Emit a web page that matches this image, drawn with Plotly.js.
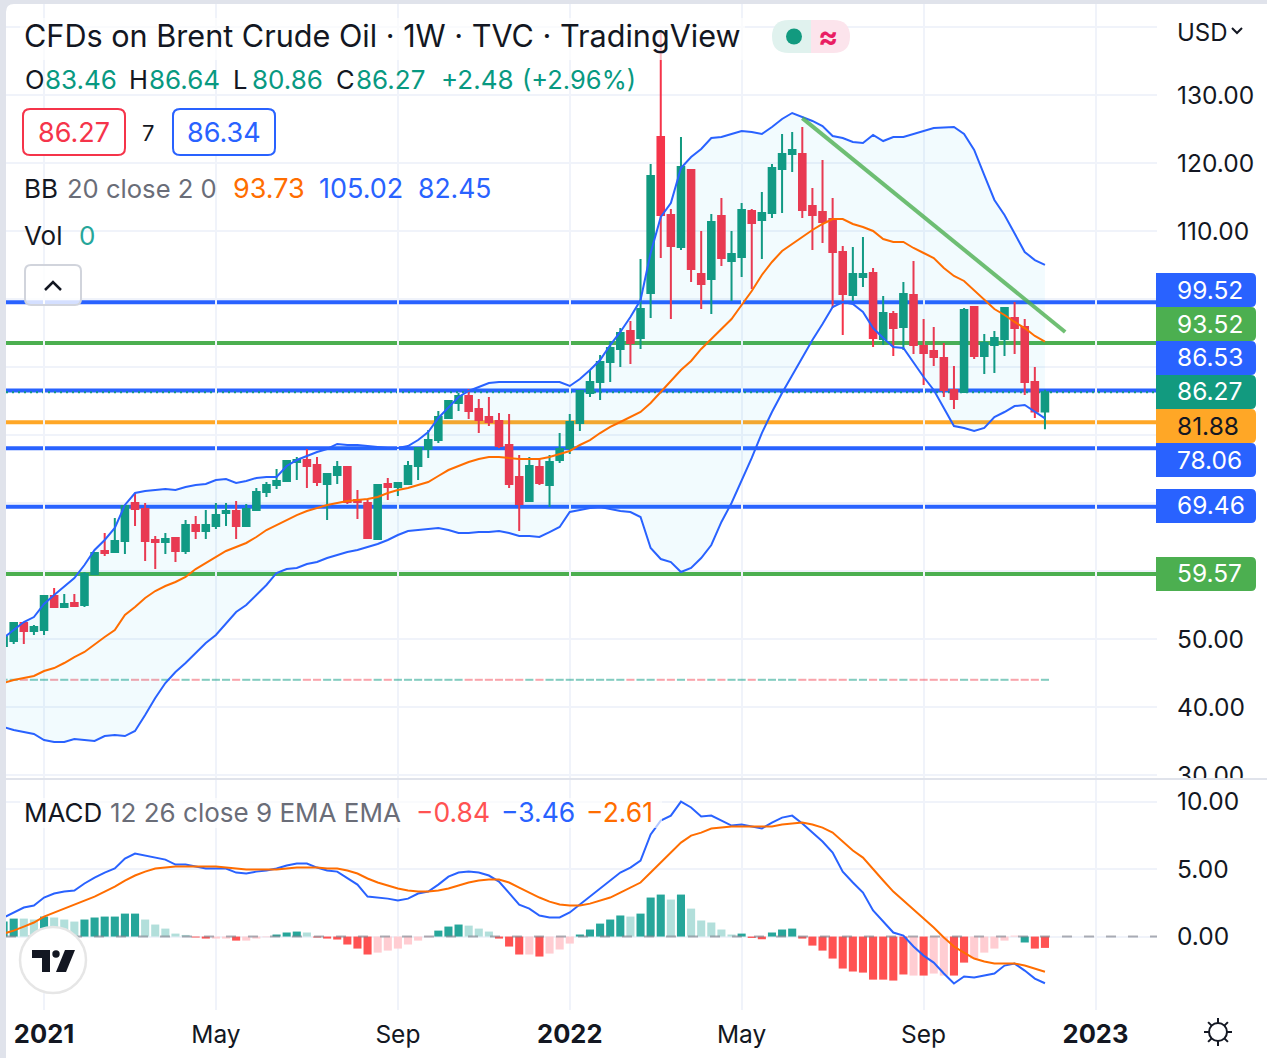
<!DOCTYPE html>
<html>
<head>
<meta charset="utf-8">
<script src="https://cdn.plot.ly/plotly-3.0.1.min.js"></script>
<style>html,body{margin:0;padding:0;background:#fff}#chart{width:1267px;height:1058px}</style>
</head>
<body>
<div id="chart"></div>
<script>
// ---------- data (weekly bars, first bar = week of 2020-12-07) ----------
const firstWeek = "2020-12-07";
const open = [48.97,49.70,52.35,51.17,51.32,56.32,54.70,55.29,55.00,59.56,62.94,62.79,64.41,70.00,69.12,64.56,64.26,64.85,62.94,66.76,65.88,66.62,68.53,68.82,66.62,68.97,71.62,72.65,73.23,76.03,76.32,75.59,72.79,74.12,75.29,70.44,70.00,64.71,72.79,72.35,72.79,75.44,77.94,79.26,82.50,84.71,85.73,83.82,82.65,82.06,78.53,73.82,70.29,75.29,72.65,76.32,78.09,81.76,86.18,87.79,90.73,92.65,95.29,94.26,100.88,123.82,112.35,107.65,118.97,103.68,102.94,112.21,105.59,106.18,112.94,111.62,112.65,119.12,121.32,121.32,113.68,112.79,111.76,106.91,100.59,103.23,103.82,94.12,97.79,95.88,100.59,93.09,92.35,91.32,86.62,86.32,98.82,91.62,93.23,94.12,97.21,95.88,87.79,83.46];
const high = [50.29,52.50,52.40,52.06,56.32,57.50,56.62,56.62,59.85,62.79,65.59,67.79,69.70,71.47,70.00,65.15,65.59,64.85,67.50,68.09,68.97,70.00,70.00,70.29,69.85,72.21,73.09,75.00,76.32,76.76,77.94,76.76,74.26,76.18,75.44,71.91,70.44,72.79,73.68,73.09,76.18,78.23,80.73,83.53,85.15,86.18,86.76,85.29,85.59,83.23,83.09,77.06,76.76,76.47,77.06,80.29,83.09,86.62,89.56,91.76,93.82,95.73,96.76,105.88,119.85,139.13,113.23,123.82,118.97,110.00,112.50,114.85,110.00,114.12,113.23,115.73,119.85,124.26,124.56,125.29,116.32,120.44,114.85,107.79,107.65,109.12,104.56,100.44,98.23,102.50,105.59,97.06,95.88,93.53,90.15,98.68,98.82,94.85,95.29,98.82,99.56,97.06,90.00,86.64];
const low = [48.97,49.26,49.26,50.59,50.59,54.70,54.56,54.85,54.70,59.56,62.21,62.65,62.50,66.62,61.47,60.29,62.50,61.32,62.50,64.71,64.71,66.18,66.62,64.71,66.62,68.82,70.88,72.06,73.09,73.38,72.21,72.50,67.50,72.79,69.85,67.65,64.85,64.71,70.44,71.03,72.79,73.38,76.62,78.82,82.35,83.53,82.35,80.29,81.32,78.09,72.21,65.88,70.29,72.65,69.41,75.88,77.21,80.59,85.59,85.15,87.79,90.00,90.44,92.65,97.21,106.03,97.06,107.21,102.50,98.53,97.79,104.85,99.71,103.23,101.47,105.88,111.91,112.65,118.68,111.91,107.21,108.23,98.68,94.71,99.71,101.76,92.94,93.23,91.62,92.50,91.91,87.35,90.15,85.59,83.82,86.32,91.18,88.97,89.12,91.62,91.91,85.88,82.50,80.86];
const close = [50.29,52.35,51.17,51.76,56.32,54.70,55.15,54.85,59.56,62.65,62.65,64.41,69.56,69.12,64.41,64.26,64.71,62.94,66.76,65.88,66.76,68.23,68.82,66.62,69.12,71.62,72.65,73.23,76.18,76.32,75.44,73.09,74.26,75.29,70.15,70.15,64.85,72.65,72.35,72.94,75.44,78.09,79.26,82.65,85.00,85.73,83.53,82.21,81.91,78.38,72.79,69.85,75.44,72.94,76.03,77.94,81.91,86.47,87.79,90.73,92.79,95.00,93.53,98.53,118.09,112.35,107.79,119.41,104.41,102.21,111.32,106.03,106.62,113.09,111.18,112.65,119.26,121.32,121.91,113.09,112.35,111.32,106.91,100.73,103.68,103.68,94.26,97.94,95.73,100.73,93.23,92.06,91.47,86.62,85.29,98.38,91.62,93.53,94.26,98.68,95.73,87.79,83.46,86.27];
const bbUpper = [50.15,51.32,52.50,53.23,55.15,56.47,57.65,58.97,60.88,63.09,64.56,66.32,69.71,71.47,71.76,71.91,72.06,71.91,72.35,72.65,72.79,73.38,73.53,72.94,73.23,73.68,73.82,73.82,75.44,76.32,76.91,77.50,77.94,78.68,78.53,78.53,78.38,78.23,78.09,78.09,78.38,79.26,80.44,82.50,83.97,85.59,86.47,87.06,87.65,87.79,87.79,87.79,87.79,87.79,87.79,87.79,87.21,88.23,89.56,91.03,93.23,95.15,97.35,99.85,106.76,112.06,114.12,119.26,120.88,122.06,123.68,123.82,124.26,124.71,124.56,124.26,125.29,126.47,127.35,126.76,126.18,125.44,123.97,123.68,123.09,122.94,124.12,123.23,123.82,123.82,124.26,124.71,125.15,125.22,125.29,124.26,121.91,118.23,114.56,112.35,109.71,106.91,105.73,105.02];
const bbBasis = [43.53,43.97,44.26,44.56,45.29,45.73,46.47,47.35,48.09,49.26,50.29,51.32,53.53,54.71,56.03,57.06,57.79,58.38,59.12,60.29,61.18,62.06,62.94,63.53,64.12,65.00,66.03,66.76,67.50,68.23,68.82,69.26,69.71,70.00,70.29,70.44,70.59,70.88,71.47,71.91,72.21,72.65,73.09,73.97,74.85,75.44,76.03,76.47,76.76,76.76,76.62,76.47,76.47,76.47,76.76,77.21,77.65,78.53,79.26,80.29,81.18,81.91,82.65,83.38,84.71,86.32,88.09,89.56,90.88,92.65,94.12,95.59,97.06,99.12,101.18,103.53,105.44,107.06,108.09,109.12,110.15,111.03,111.76,111.76,111.03,110.59,110.00,108.82,108.38,108.38,107.50,106.76,106.03,104.56,103.38,102.65,101.32,99.85,98.53,97.65,96.62,95.73,94.56,93.73];
const bbLower = [37.06,36.62,36.32,36.03,35.15,34.85,34.85,35.29,35.15,35.00,35.73,35.88,35.73,36.47,38.82,41.32,43.53,45.15,46.47,47.94,49.41,50.59,52.35,53.97,55.00,56.47,57.94,59.71,60.29,60.44,61.03,61.32,61.91,62.35,62.79,63.09,63.53,63.97,64.56,65.29,65.88,66.03,66.18,66.32,66.03,65.59,65.59,65.73,65.73,65.88,65.59,65.15,65.15,65.00,65.73,66.47,68.68,68.97,69.26,69.41,69.12,68.82,68.68,67.94,63.38,61.76,61.32,59.85,60.44,61.91,63.82,67.21,70.00,73.38,76.62,80.29,83.38,86.18,88.82,91.32,93.97,96.32,98.82,99.56,99.26,98.09,95.73,94.26,92.94,92.79,90.59,88.53,86.62,83.97,81.32,81.03,80.59,81.03,82.65,83.38,84.26,84.41,83.38,82.45];
const macdLine = [1.41,1.78,2.15,2.30,2.89,3.19,3.33,3.41,3.93,4.37,4.74,5.04,5.78,6.15,6.00,5.85,5.70,5.33,5.33,5.19,5.04,5.04,5.04,4.74,4.67,4.81,4.89,5.04,5.26,5.41,5.41,5.11,4.89,4.81,4.30,3.85,2.96,2.89,2.81,2.67,2.81,3.19,3.33,3.85,4.44,4.74,4.81,4.74,4.52,4.07,3.26,2.37,2.07,1.56,1.41,1.41,1.78,2.37,2.96,3.56,4.15,4.74,5.11,5.63,7.56,8.59,8.96,10.00,9.56,8.89,8.96,8.59,8.22,8.30,8.15,8.00,8.44,8.81,8.96,8.37,7.70,7.04,6.22,4.81,4.00,3.26,1.93,1.11,0.30,0.07,-0.74,-1.41,-1.93,-2.74,-3.48,-2.96,-3.04,-2.89,-2.74,-2.15,-2.00,-2.52,-3.11,-3.46];
const macdSignal = [0.22,0.44,0.74,1.04,1.48,1.78,2.07,2.37,2.67,2.96,3.33,3.70,4.15,4.52,4.81,5.04,5.11,5.19,5.19,5.19,5.19,5.19,5.11,5.04,4.96,4.96,4.96,4.96,5.04,5.11,5.11,5.11,5.04,5.04,4.89,4.67,4.30,4.00,3.78,3.56,3.41,3.33,3.33,3.41,3.56,3.78,4.00,4.15,4.22,4.22,4.00,3.63,3.26,2.89,2.59,2.37,2.30,2.30,2.44,2.67,2.89,3.26,3.63,4.00,4.74,5.48,6.22,6.96,7.48,7.70,8.00,8.07,8.15,8.15,8.15,8.15,8.15,8.30,8.37,8.44,8.30,8.07,7.70,7.04,6.37,5.85,5.04,4.15,3.33,2.67,2.00,1.33,0.67,-0.07,-0.74,-1.19,-1.63,-1.85,-2.00,-2.00,-2.00,-2.15,-2.37,-2.61];
const macdHist = [1.11,1.33,1.33,1.26,1.48,1.41,1.26,1.11,1.26,1.41,1.48,1.48,1.70,1.70,1.26,0.89,0.59,0.22,0.12,-0.07,-0.15,-0.15,-0.15,-0.30,-0.30,-0.15,-0.05,0.15,0.30,0.37,0.30,-0.07,-0.15,-0.22,-0.59,-0.89,-1.33,-1.19,-1.04,-0.89,-0.59,-0.30,-0.05,0.44,0.74,0.89,0.81,0.59,0.37,-0.15,-0.74,-1.33,-1.33,-1.48,-1.26,-0.96,-0.52,0.15,0.52,0.96,1.26,1.56,1.48,1.70,2.89,3.11,2.74,3.11,2.07,1.19,1.04,0.52,0.15,0.22,-0.10,-0.20,0.30,0.52,0.59,-0.15,-0.67,-1.04,-1.63,-2.37,-2.59,-2.67,-3.19,-3.19,-3.26,-2.81,-2.89,-2.89,-2.74,-2.89,-2.89,-1.93,-1.63,-1.19,-0.89,-0.30,0.07,-0.44,-0.89,-0.84];
const histShade = "DDLLDLLLDDDDDDLLLLLRRPPRPPPDDDLRRRRRRPPPPPPDDDLLLRRRPRPPPDDDDDLDDDLDLLLLLDRRDDDRRRRRRRRRRRPRPPRRPPPPPDRRR".split("");
const levelValues = [99.52,93.52,86.53,81.88,78.06,69.46,59.57];
const levelColors = ["#2962ff","#4caf50","#2962ff","#ffa726","#2962ff","#2962ff","#4caf50"];
const lastPrice = 86.27;
const tagValues = ["99.52","93.52","86.53","86.27","81.88","78.06","69.46","59.57"];
const tagColors = ["#2962ff","#4caf50","#2962ff","#129a7f","#ffa726","#2962ff","#2962ff","#4caf50"];
const trendDates = ["2022-06-13","2022-12-12"];
const trendPrices = [126.6,95.15];
const priceTicks = [140,130,120,110,100,90,80,70,60,50,40,30];
const hiddenPriceLabels = [140,100,90,80,70,60]; // these axis labels sit behind the price tags in the reference
const macdTicks = [10,5,0];
const timeTickDates = ["2021-01-04","2021-05-03","2021-09-06","2022-01-03","2022-05-02","2022-09-05","2023-01-02"];
const timeTickLabels = ['<span style="font-size:25.5px"><b>2021</b></span>',"May","Sep",'<span style="font-size:25.5px"><b>2022</b></span>',"May","Sep",'<span style="font-size:25.5px"><b>2023</b></span>'];

// ---------- colours and layout constants ----------
const UP="#12997f", DOWN="#f5344a", INK="#131722", GREY="#6a6d78", BLUE="#2962ff", ORANGE="#ff6d00", GRID="#f0f3fa", TEXT_GREEN="#089981";
const FONT="Inter, 'Noto Sans', sans-serif";
const W=1267,H=1058,L=6,R=1157,T=4,B=1010;
const px=x=>(x-L)/(R-L), py=y=>(B-y)/(B-T);
const WEEK=7*864e5;
const dates=open.map((_,i)=>new Date(Date.parse(firstWeek+"T00:00:00Z")+i*WEEK).toISOString().slice(0,10));
const shade={D:"#26a69a",L:"#b2dfdb",R:"#ff5252",P:"#ffcdd2"};

// ---------- traces ----------
const line=(y,color,ya)=>({type:"scatter",mode:"lines",x:dates,y,xaxis:"x",yaxis:ya,line:{color,width:2},hoverinfo:"skip",showlegend:false});
const traces=[
  line(bbUpper,BLUE,"y"),
  Object.assign(line(bbLower,BLUE,"y"),{fill:"tonexty",fillcolor:"rgba(3,169,244,0.05)"}),
  line(bbBasis,ORANGE,"y"),
  {type:"bar",x:dates,y:dates.map(()=>0.3),base:dates.map(()=>43.85),width:WEEK*0.8,xaxis:"x",yaxis:"y",
   marker:{color:close.map((c,i)=>c>=open[i]?"rgba(8,153,129,0.5)":"rgba(242,54,69,0.45)"),line:{width:0}},hoverinfo:"skip",showlegend:false},
  {type:"candlestick",x:dates,open,high,low,close,xaxis:"x",yaxis:"y",whiskerwidth:0,
   increasing:{line:{color:UP,width:2},fillcolor:UP},decreasing:{line:{color:DOWN,width:2},fillcolor:DOWN},hoverinfo:"skip",showlegend:false},
  {type:"bar",x:dates,y:macdHist,width:WEEK*0.8,xaxis:"x",yaxis:"y2",
   marker:{color:histShade.map(s=>shade[s]),line:{width:0}},hoverinfo:"skip",showlegend:false},
  line(macdLine,BLUE,"y2"),
  line(macdSignal,ORANGE,"y2")
];

// ---------- shapes ----------
const P=(path,o)=>Object.assign({type:"path",xref:"paper",yref:"paper",path,layer:"above",line:{width:0}},o||{});
const fx=v=>px(v).toFixed(5), fy=v=>py(v).toFixed(5);
function rrect(x0,y0,x1,y1,r){ // rounded rectangle in pixels
  return `M${fx(x0+r)},${fy(y0)} L${fx(x1-r)},${fy(y0)} Q${fx(x1)},${fy(y0)} ${fx(x1)},${fy(y0+r)} L${fx(x1)},${fy(y1-r)} Q${fx(x1)},${fy(y1)} ${fx(x1-r)},${fy(y1)} L${fx(x0+r)},${fy(y1)} Q${fx(x0)},${fy(y1)} ${fx(x0)},${fy(y1-r)} L${fx(x0)},${fy(y0+r)} Q${fx(x0)},${fy(y0)} ${fx(x0+r)},${fy(y0)} Z`;
}
function poly(pts){return "M"+pts.map(p=>fx(p[0])+","+fy(p[1])).join(" L")+" Z";}
function open_(pts){return "M"+pts.map(p=>fx(p[0])+","+fy(p[1])).join(" L");}
function rect(x0,y0,x1,y1,fill){return {type:"rect",xref:"paper",yref:"paper",x0:px(x0),x1:px(x1),y0:py(y0),y1:py(y1),fillcolor:fill,line:{width:0},layer:"above"};}
function circ(cx,cy,r,fill,stroke,w){return {type:"circle",xref:"paper",yref:"paper",x0:px(cx-r),x1:px(cx+r),y0:py(cy+r),y1:py(cy-r),fillcolor:fill,line:{color:stroke||fill,width:w||0},layer:"above"};}

const shapes=[];
levelValues.forEach((v,i)=>shapes.push({type:"line",xref:"paper",yref:"y",x0:0,x1:1,y0:v,y1:v,layer:"below",line:{color:levelColors[i],width:4}}));
shapes.push({type:"line",xref:"paper",yref:"y",x0:0,x1:1,y0:lastPrice,y1:lastPrice,layer:"below",line:{color:UP,width:2,dash:"2px,4px"}});
shapes.push({type:"line",xref:"paper",yref:"y2",x0:0,x1:1,y0:0,y1:0,layer:"above",line:{color:"rgba(120,123,134,0.6)",width:2,dash:"10px,12px"}});
shapes.push({type:"line",xref:"x",yref:"y",x0:trendDates[0],x1:trendDates[1],y0:trendPrices[0],y1:trendPrices[1],layer:"above",line:{color:"rgba(76,175,80,0.8)",width:4}});
// translucent legend backdrops
shapes.push(rect(20,18,745,60,"rgba(255,255,255,0.65)"));
shapes.push(rect(20,798,662,828,"rgba(255,255,255,0.65)"));
// pane separator + clip of the cut-off axis label
shapes.push(rect(1157,779,1267,792,"#ffffff"));
shapes.push(rect(6,778,1267,780,"#e0e3eb"));
// outer frame
shapes.push(rect(0,0,6,1058,"#e0e3eb"));
shapes.push(rect(0,0,1267,4,"#e0e3eb"));
shapes.push(P(`M${fx(6)},${fy(4)} L${fx(14)},${fy(4)} Q${fx(6)},${fy(4)} ${fx(6)},${fy(12)} Z`,{fillcolor:"#e0e3eb"}));
// price tags
const tagCentre=[290,324,358,392,426,460,506,574];
tagCentre.forEach((c,i)=>{
  const x0=1156,x1=1256,y0=c-17,y1=c+17,r=5;
  shapes.push(P(`M${fx(x0)},${fy(y0)} L${fx(x1-r)},${fy(y0)} Q${fx(x1)},${fy(y0)} ${fx(x1)},${fy(y0+r)} L${fx(x1)},${fy(y1-r)} Q${fx(x1)},${fy(y1)} ${fx(x1-r)},${fy(y1)} L${fx(x0)},${fy(y1)} Z`,{fillcolor:tagColors[i]}));
});
// OHLC input boxes
shapes.push(P(rrect(23,109,125,155,7),{fillcolor:"#ffffff",line:{color:DOWN,width:2}}));
shapes.push(P(rrect(173,109,275,155,7),{fillcolor:"#ffffff",line:{color:BLUE,width:2}}));
// collapse button
shapes.push(P(rrect(25,265,81,305,6),{fillcolor:"rgba(255,255,255,0.8)",line:{color:"#d1d4dc",width:2}}));
shapes.push(P(open_([[45,290],[53,282],[61,290]]),{line:{color:INK,width:2.5}}));
// status pill
shapes.push(P(`M${fx(811)},${fy(20)} L${fx(789)},${fy(20)} Q${fx(772)},${fy(20)} ${fx(772)},${fy(36.5)} Q${fx(772)},${fy(53)} ${fx(789)},${fy(53)} L${fx(811)},${fy(53)} Z`,{fillcolor:"#e0f2ee"}));
shapes.push(P(`M${fx(811)},${fy(20)} L${fx(833)},${fy(20)} Q${fx(850)},${fy(20)} ${fx(850)},${fy(36.5)} Q${fx(850)},${fy(53)} ${fx(833)},${fy(53)} L${fx(811)},${fy(53)} Z`,{fillcolor:"#fce4ec"}));
shapes.push(circ(794,36.5,8,"#129a7f"));
// USD chevron
shapes.push(P(open_([[1232,28],[1237,33],[1242,28]]),{line:{color:INK,width:2}}));
// logo
shapes.push(circ(53,960,33,"#ffffff","#e6e6e6",2.5));
shapes.push(P(poly([[32,950],[50,950],[50,972],[42,972],[42,958],[32,958]]),{fillcolor:INK}));
shapes.push(circ(56,954,3.7,INK));
shapes.push(P(poly([[65,950],[75,950],[66,972],[56,972]]),{fillcolor:INK}));
// settings icon
shapes.push(circ(1218,1032,9,"rgba(0,0,0,0)",INK,2));
[0,45,90,135,180,225,270,315].forEach(a=>{
  const c=Math.cos(a*Math.PI/180),s=Math.sin(a*Math.PI/180);
  shapes.push(P(open_([[1218+9*c,1032+9*s],[1218+14*c,1032+14*s]]),{line:{color:INK,width:2}}));
});

// ---------- text ----------
const ann=[];
function txt(x,y,text,color,size,anchor){
  ann.push({xref:"paper",yref:"paper",x:px(x),y:py(y),text,showarrow:false,xanchor:anchor||"left",yanchor:"middle",
    font:{family:FONT,size:size||24,color:color||INK},borderpad:0,captureevents:false});
}
txt(23,36,"CFDs on Brent Crude Oil · 1W · TVC · TradingView",INK,30.6);
txt(24,79,"O",INK,25.5); txt(44,79,"83.46",TEXT_GREEN,26);
txt(128,79,"H",INK,25.5); txt(148,79,"86.64",TEXT_GREEN,26);
txt(232,79,"L",INK,25.5); txt(251,79,"80.86",TEXT_GREEN,26);
txt(335,79,"C",INK,25.5); txt(355,79,"86.27",TEXT_GREEN,26);
txt(440,79,"+2.48",TEXT_GREEN,26); txt(521,79,"(+2.96%)",TEXT_GREEN,25.5);
txt(74,132.5,"86.27",DOWN,27,"center"); txt(148,132.5,"7",INK,22,"center"); txt(224,132.5,"86.34",BLUE,27,"center");
txt(23,188.5,"BB",INK,26); txt(66,188.5,"20 close 2 0",GREY,25.6);
txt(232,188.5,"93.73",ORANGE,27); txt(318,188.5,"105.02",BLUE,27); txt(417,188.5,"82.45",BLUE,26.5);
txt(23,236,"Vol",INK,26); txt(78,236,"0","#26a69a",26);
txt(23,812,"MACD",INK,26); txt(109,812,"12 26 close 9 EMA EMA",GREY,26);
txt(415,812,"−0.84","#ff5252",26.5); txt(500,812,"−3.46",BLUE,26.5); txt(585,812,"−2.61",ORANGE,26.5);
txt(828,36,"<b>≈</b>","#e91e63",30,"center");
txt(1176,32,"USD",INK,24);
tagCentre.forEach((c,i)=>txt(1176,c-0.5,tagValues[i],tagColors[i]==="#ffa726"?INK:"#ffffff",24.5));

// ---------- layout ----------
const axisFont={family:FONT,size:24.5,color:INK};
const layout={
  width:W,height:H,autosize:false,
  margin:{l:L,r:W-R,t:T,b:H-B,pad:0},
  paper_bgcolor:"#ffffff",plot_bgcolor:"#ffffff",
  showlegend:false,hovermode:false,dragmode:false,
  barmode:"overlay",boxgap:0.35,boxgroupgap:0,
  font:{family:FONT},
  xaxis:{type:"date",anchor:"y2",range:["2020-12-08 16:00","2023-02-13 14:00"],
    tickmode:"array",tickvals:timeTickDates,ticktext:timeTickLabels,tickfont:axisFont,ticks:"",
    ticklabelstandoff:7,
    showgrid:true,gridcolor:GRID,gridwidth:2,zeroline:false,showline:false,rangeslider:{visible:false}},
  yaxis:{domain:[(B-778)/(B-T),1],anchor:"x",side:"right",range:[29.56,143.38],
    tickmode:"array",tickvals:priceTicks,ticktext:priceTicks.map(v=>hiddenPriceLabels.includes(v)?"":v.toFixed(2)),tickfont:axisFont,ticks:"",
    ticklabelstandoff:19,showgrid:true,gridcolor:GRID,gridwidth:2,zeroline:false,showline:false},
  yaxis2:{domain:[0,(B-779)/(B-T)],anchor:"x",side:"right",range:[-5.44,11.67],
    tickmode:"array",tickvals:macdTicks,ticktext:macdTicks.map(v=>v.toFixed(2)),tickfont:axisFont,ticks:"",
    ticklabelstandoff:19,showgrid:true,gridcolor:GRID,gridwidth:2,zeroline:false,showline:false},
  shapes,annotations:ann
};
Plotly.newPlot("chart",traces,layout,{displayModeBar:false,staticPlot:true});
</script>
</body>
</html>
